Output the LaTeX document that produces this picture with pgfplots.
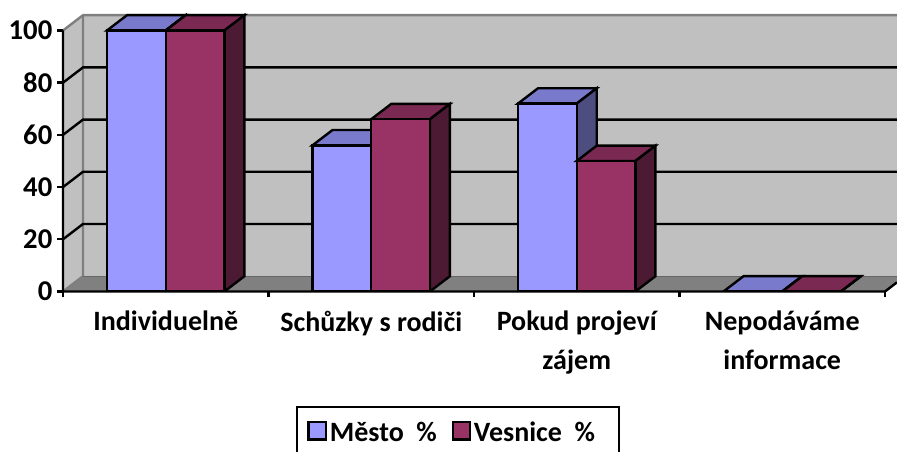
\documentclass[border=0pt]{standalone}
\usepackage{fontspec}
\setmainfont{Carlito}
\usepackage{pgfplots}
\pgfplotsset{compat=1.18}
\definecolor{wall}{HTML}{C0C0C0}
\definecolor{floorc}{HTML}{808080}
\definecolor{edgec}{HTML}{7F7F7F}
\definecolor{mesto}{HTML}{9999FF}
\definecolor{mestotop}{HTML}{7A7ACC}
\definecolor{mestoside}{HTML}{4D4D80}
\definecolor{vesnice}{HTML}{993366}
\definecolor{vesnicetop}{HTML}{7A2952}
\definecolor{vesniceside}{HTML}{4D1A33}
\newcommand{\lw}{1.8pt}
% depth of the fake 3d: 0.0973 x units, 5.86 y units
\newcommand{\cube}[3]{% left edge, value, colour name
  \pgfmathsetmacro{\xa}{#1}
  \pgfmathsetmacro{\xb}{#1+0.2857}
  \pgfmathsetmacro{\xc}{#1+0.0973}
  \pgfmathsetmacro{\xd}{#1+0.2857+0.0973}
  \pgfmathsetmacro{\xm}{#1+0.14285}
  \pgfmathsetmacro{\yt}{#2+5.86}
  \addplot[forget plot,fill=#3top,draw=black,line width=\lw] coordinates {(\xa,#2) (\xc,\yt) (\xd,\yt) (\xb,#2)} --cycle;
  \addplot[forget plot,fill=#3side,draw=black,line width=\lw] coordinates {(\xb,#2) (\xd,\yt) (\xd,5.86) (\xb,0)} --cycle;
  \addplot[forget plot,ybar,bar width=0.2857,bar shift=0pt,fill=#3,draw=black,line width=\lw] coordinates {(\xm,#2)};
}
\begin{document}
\begin{tikzpicture}
\useasboundingbox (0,0) rectangle (672.75pt,339pt);
\begin{axis}[
  at={(47.25pt,120.375pt)}, anchor=origin,
  x=154.125pt, y=1.9575pt,
  xmin=0, xmax=4.058, ymin=0, ymax=106.5,
  clip mode=individual,
  axis x line=none, axis y line=none,
  hide x axis=false, hide y axis=false,
  separate axis lines,
  axis line style={draw=none},
  ytick={0,20,40,60,80,100},
  xtick={0,1,2,3,4}, xticklabels={},
  extra x ticks={0.5,1.5,2.5,3.5},
  extra x tick labels={Individuelně,Schůzky s rodiči,Pokud projeví\\[5.2pt]zájem,Nepodáváme\\[5.2pt]informace},
  extra x tick style={major tick length=0pt},
  tick align=outside, tickpos=left,
  major tick length=4.5pt,
  tick style={black,line width=\lw},
  /pgf/number format/assume math mode=true,
  y tick label style={font=\fontsize{21.5}{24}\selectfont\bfseries},
  x tick label style={font=\fontsize{21}{24}\selectfont\bfseries,align=center,yshift=-11.2pt},
  legend columns=2,
  legend cell align=left,
  legend style={
    at={(axis description cs:0.4736,-0.412)}, anchor=north,
    draw=black, line width=\lw,
    font=\fontsize{21}{24}\selectfont\bfseries,
    inner xsep=8pt, inner ysep=9pt,
    /tikz/column 2/.style={column sep=9pt},
  },
]
% walls and floor
\addplot[forget plot,fill=wall,draw=none] coordinates {(0.0973,5.86) (4.2,5.86) (4.2,105.86) (0.0973,105.86)} --cycle;
\addplot[forget plot,fill=wall,draw=none] coordinates {(0,0) (0.0973,5.86) (0.0973,105.86) (0,100)} --cycle;
\addplot[forget plot,fill=floorc,draw=none] coordinates {(0,0) (0.0973,5.86) (4.0973,5.86) (4,0)} --cycle;
\addplot[forget plot,draw=edgec,line width=\lw] coordinates {(0,100) (0.0973,105.86) (4.2,105.86)};
\addplot[forget plot,draw=edgec,line width=\lw] coordinates {(0,0) (0.0973,5.86) (0.0973,105.86)};
\addplot[forget plot,draw=black!60,line width=0.75pt] coordinates {(0.0973,5.86) (4.2,5.86)};
% gridlines
\addplot[forget plot,black,line width=\lw] coordinates {(0,20) (0.0973,25.86) (4.2,25.86)};
\addplot[forget plot,black,line width=\lw] coordinates {(0,40) (0.0973,45.86) (4.2,45.86)};
\addplot[forget plot,black,line width=\lw] coordinates {(0,60) (0.0973,65.86) (4.2,65.86)};
\addplot[forget plot,black,line width=\lw] coordinates {(0,80) (0.0973,85.86) (4.2,85.86)};
% bars: Město %, Vesnice %
\cube{0.2141}{100}{mesto}
\cube{0.4998}{100}{vesnice}
\cube{1.2141}{56}{mesto}
\cube{1.4998}{66}{vesnice}
\cube{2.2141}{72}{mesto}
\cube{2.4998}{50}{vesnice}
\cube{3.2141}{0}{mesto}
\cube{3.4998}{0}{vesnice}
% front edges
\draw[black,line width=\lw] (axis cs:0,100) -- (axis cs:0,0) -- (axis cs:4,0) -- (axis cs:4.058,3.5);
\addlegendimage{legend image code/.code={\draw[fill=mesto,draw=black,line width=\lw] (0pt,-5pt) rectangle (13pt,8pt);}}
\addlegendentry{Město~~\%}
\addlegendimage{legend image code/.code={\draw[fill=vesnice,draw=black,line width=\lw] (0pt,-5pt) rectangle (13pt,8pt);}}
\addlegendentry{Vesnice~~\%\rule{8pt}{0pt}}
\end{axis}
\end{tikzpicture}
\end{document}
